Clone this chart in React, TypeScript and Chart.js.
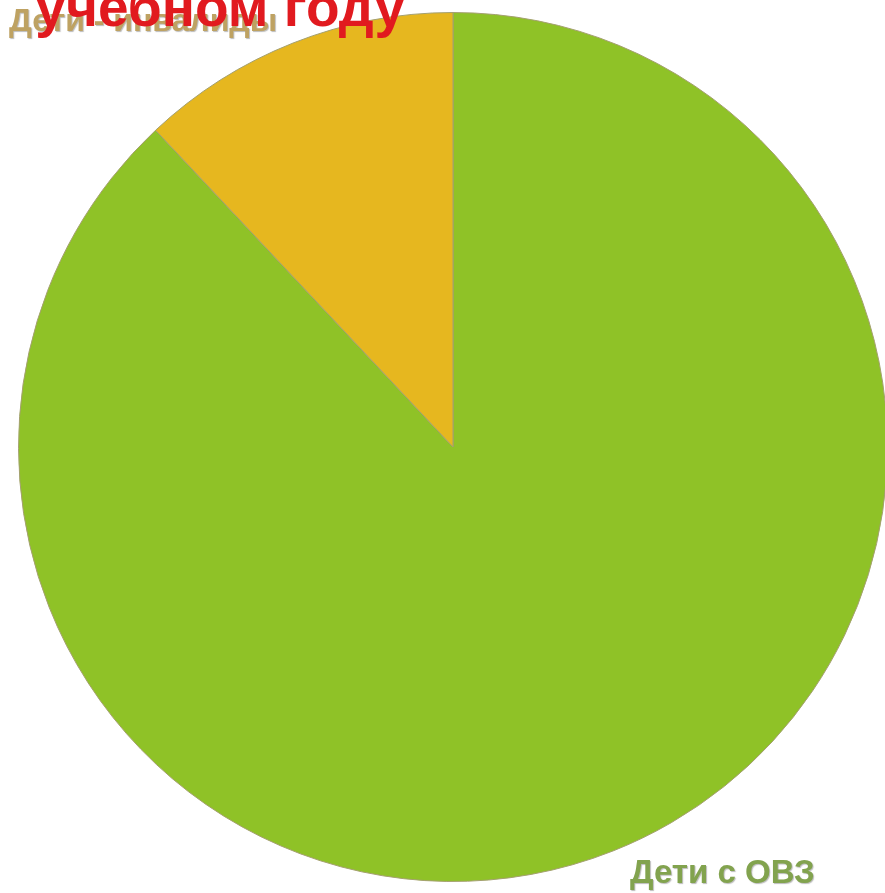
import React, { useEffect, useRef } from "react";
import { Chart, registerables } from "chart.js";

Chart.register(...registerables);

const categories: string[] = ["Дети с ОВЗ", "Дети - инвалиды"];
const shares: number[] = [88, 12];
const sliceColors: string[] = ["#8fc227", "#e6b71f"];
const titleText = "учебном году";

export default function App() {
  const canvasRef = useRef<HTMLCanvasElement | null>(null);

  useEffect(() => {
    document.body.style.margin = "0";
    const canvas = canvasRef.current;
    if (!canvas) return;
    const chart = new Chart(canvas, {
      type: "pie",
      data: {
        labels: categories,
        datasets: [
          {
            data: shares,
            backgroundColor: sliceColors,
            borderColor: "#a4a070",
            borderWidth: 1,
          },
        ],
      },
      options: {
        responsive: false,
        animation: false,
        layout: { padding: { left: 18, right: 2, top: 12, bottom: 11 } },
        plugins: {
          legend: { display: false },
          tooltip: { enabled: false },
          title: { display: false },
        },
      },
    });
    return () => chart.destroy();
  }, []);

  const font = "'Liberation Sans', Arial, sans-serif";

  return (
    <div
      style={{
        position: "fixed",
        left: 0,
        top: 0,
        width: 885,
        height: 893,
        overflow: "hidden",
        background: "#ffffff",
      }}
    >
      <canvas
        ref={canvasRef}
        width={890}
        height={893}
        style={{ position: "absolute", left: 0, top: 0, width: 890, height: 893 }}
      />
      <div
        style={{
          position: "absolute",
          right: 885 - 277,
          top: 4,
          fontFamily: font,
          fontWeight: 700,
          fontSize: 32,
          lineHeight: 1,
          whiteSpace: "nowrap",
          color: "#bea262",
          textShadow: "1px 1px 1px rgba(120,120,120,0.5)",
        }}
      >
        {categories[1]}
      </div>
      <div
        style={{
          position: "absolute",
          right: 885 - 405,
          top: -20,
          fontFamily: font,
          fontWeight: 700,
          fontSize: 55,
          lineHeight: 1,
          whiteSpace: "nowrap",
          color: "#e11a1f",
        }}
      >
        {titleText}
      </div>
      <div
        style={{
          position: "absolute",
          left: 630,
          top: 855,
          fontFamily: font,
          fontWeight: 700,
          fontSize: 33,
          lineHeight: 1,
          whiteSpace: "nowrap",
          color: "#82a34e",
          textShadow: "1px 1px 1px rgba(120,120,120,0.5)",
        }}
      >
        {categories[0]}
      </div>
    </div>
  );
}
